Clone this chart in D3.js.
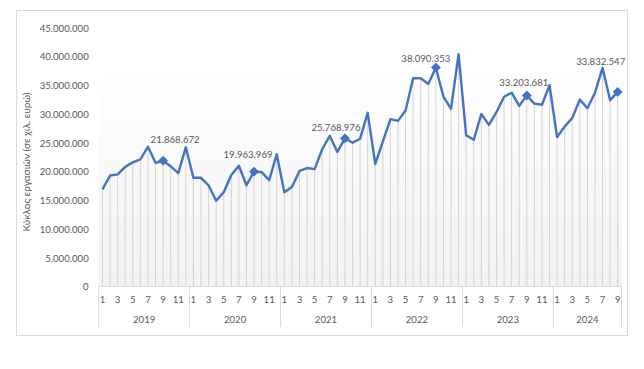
<!DOCTYPE html>
<html><head><meta charset="utf-8">
<script src="https://cdn.jsdelivr.net/npm/d3@7"></script>
<style>body{margin:0;background:#fff}svg{display:block}</style>
</head><body>
<script>
const years = ["2019","2020","2021","2022","2023","2024"];
const monthsPerYear = [12,12,12,12,12,9];
const values = [
  16900000,19300000,19500000,20800000,21600000,22100000,24300000,21500000,21868672,20900000,19700000,24200000,
  18900000,18900000,17600000,14900000,16400000,19400000,21000000,17600000,19963969,19900000,18500000,23000000,
  16400000,17300000,20100000,20600000,20400000,23900000,26200000,23400000,25768976,25000000,25700000,30200000,
  21300000,25200000,29100000,28800000,30600000,36200000,36200000,35200000,38090353,33000000,30900000,40400000,
  26300000,25500000,30000000,28100000,30300000,33000000,33700000,31400000,33203681,31800000,31600000,35000000,
  26000000,27800000,29300000,32500000,31000000,33700000,38000000,32400000,33832547
];
const labelledIndex = [8,20,32,44,56,68];
const yTicks = [0,5000000,10000000,15000000,20000000,25000000,30000000,35000000,40000000,45000000];
const yTitle = "Κύκλος εργασιών (σε χιλ. ευρώ)";

const W=644,H=369;
const svg=d3.select("body").append("svg").attr("width",W).attr("height",H);
const font="Lato, 'Open Sans', sans-serif";
const txt="#595959";

svg.append("rect").attr("x",16.5).attr("y",10.5).attr("width",611).attr("height",325)
  .attr("fill","#fff").attr("stroke","#d9d9d9");

const L=98.7,R=621.5,T=27.7,B=286.5;
const idx=d3.range(values.length);
const x=d3.scaleBand().domain(idx).range([L,R]).padding(0);
const cx=i=>x(i)+x.bandwidth()/2;
const y=d3.scaleLinear().domain([0,45000000]).range([B,T]);

const defs=svg.append("defs");
const g=defs.append("linearGradient").attr("id","bg").attr("x1",0).attr("y1",0).attr("x2",0).attr("y2",1);
g.append("stop").attr("offset","0%").attr("stop-color","#ffffff");
g.append("stop").attr("offset","100%").attr("stop-color","#f2f2f2");
svg.append("rect").attr("x",L).attr("y",y(40000000)).attr("width",R-L).attr("height",B-y(40000000)).attr("fill","url(#bg)");

// y axis labels
const fmt=v=>d3.format(",")(v).replace(/,/g,".");
const ya=d3.axisLeft(y).tickValues(yTicks).tickFormat(fmt).tickSize(0).tickPadding(10);
const yg=svg.append("g").attr("transform",`translate(${L},0)`).call(ya);
yg.select(".domain").remove();
yg.selectAll("text").attr("font-family",font).attr("font-size","9.6px").attr("fill",txt).attr("dy","0.35em");

svg.append("text").attr("transform","translate(26,162) rotate(-90)").attr("text-anchor","middle")
  .attr("dy","0.35em").attr("font-family",font).attr("font-size","10px").attr("fill",txt).text(yTitle);

// drop lines
svg.append("g").selectAll("line").data(idx).join("line")
  .attr("x1",cx).attr("x2",cx).attr("y1",i=>y(values[i])).attr("y2",B)
  .attr("stroke","#d4d4d4").attr("stroke-width",1);

// x axis line
svg.append("line").attr("x1",L).attr("x2",R).attr("y1",B).attr("y2",B).attr("stroke","#d9d9d9");

// year groups
let start=0;
const yearStarts=[];
monthsPerYear.forEach((n,k)=>{yearStarts.push(start);start+=n;});
const sep=yearStarts.map(s=>x(s)).concat([R]);
svg.append("g").selectAll("line").data(sep).join("line")
  .attr("x1",d=>d).attr("x2",d=>d).attr("y1",B).attr("y2",327).attr("stroke","#d9d9d9");
svg.append("g").selectAll("text").data(years).join("text")
  .attr("x",(d,k)=>(x(yearStarts[k])+(k<years.length-1?x(yearStarts[k+1]):R))/2)
  .attr("y",320).attr("dy","0.35em").attr("text-anchor","middle")
  .attr("font-family",font).attr("font-size","9.6px").attr("fill",txt).text(d=>d);
// month labels
const monthIdx=[];
yearStarts.forEach((s,k)=>{for(let m=0;m<monthsPerYear[k];m+=2)monthIdx.push({i:s+m,m:m+1});});
svg.append("g").selectAll("text").data(monthIdx).join("text")
  .attr("x",d=>cx(d.i)).attr("y",300).attr("dy","0.35em").attr("text-anchor","middle")
  .attr("font-family",font).attr("font-size","9.6px").attr("fill",txt).text(d=>d.m);

// line
svg.append("path").datum(idx).attr("fill","none").attr("stroke","#4472C4").attr("stroke-width",2.4)
  .attr("stroke-linejoin","round")
  .attr("d",d3.line().x(cx).y(i=>y(values[i])));

// markers
svg.append("g").selectAll("path").data(labelledIndex).join("path")
  .attr("transform",i=>`translate(${cx(i)},${y(values[i])})`)
  .attr("d",d3.symbol().type(d3.symbolDiamond2).size(50)).attr("fill","#4472C4").attr("stroke","#4472C4");

// labels (manual offsets like the original)
const off=[[12,-21],[-6,-17],[-9,-11],[-10,-9],[-3,-13],[-17,-30]];
svg.append("g").selectAll("text").data(labelledIndex).join("text")
  .attr("x",(i,k)=>cx(i)+off[k][0]).attr("y",(i,k)=>y(values[i])+off[k][1]).attr("dy","0.35em")
  .attr("text-anchor","middle").attr("font-family",font).attr("font-size","9.6px").attr("fill",txt)
  .text(i=>fmt(values[i]));
</script>
</body></html>
